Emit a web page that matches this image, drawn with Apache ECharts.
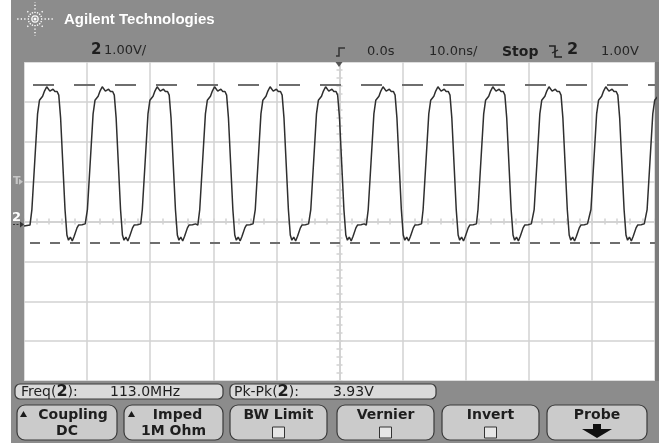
<!DOCTYPE html>
<html>
<head>
<meta charset="utf-8">
<title>Agilent scope capture</title>
<script src="https://cdn.jsdelivr.net/npm/echarts@6.0.0/dist/echarts.min.js"></script>
<style>
html, body { margin: 0; padding: 0; background: #fff; }
#scope { width: 668px; height: 443px; }
</style>
</head>
<body>
<div id="scope"></div>
<script>
/*屏幕刻度: 10ns/div, 1.00V/div*/
var timeRange = [-50, 50];
var timeStep = 10;
var voltRange = [-4, 4];
var voltStep = 1;

/*每个上升沿中点的时间 (ns), 从截图读出*/
var edgeTimes = [-48.3, -39.5, -30.8, -21.7, -12.9, -4.1, 5.0, 13.7, 22.4, 31.3, 40.3, 49.2];
/*一个周期的波形 (相对上升沿中点的时间 ns, 电压 V)*/
var shapeTimes = [-0.75, -0.45, 0, 0.45, 0.75, 0.95, 1.25, 1.55, 1.90, 2.40, 2.90, 3.20, 3.55,
	3.81, 4.10, 4.45, 4.80, 5.10, 5.35, 5.65, 5.95, 6.25, 6.70, 6.95, 7.50, 8.00];
var shapeVolts = [-0.09, 0.30, 1.50, 2.70, 3.04, 3.09, 3.14, 3.27, 3.38, 3.27, 3.32, 3.26, 3.26,
	3.17, 2.60, 1.45, 0.30, -0.34, -0.47, -0.39, -0.49, -0.37, -0.16, -0.09, -0.08, -0.06];
var leadVolts = -0.11;

/*Pk-Pk 光标 (最高, 最低) 和触发电平*/
var cursorVolts = [3.44, -0.53];
var triggerVolts = 1.0;

var gridColor = '#d2d2d2';
var panelGray = '#8c8c8c';
var ink = '#1e1e1e';

var chart = echarts.init(document.getElementById('scope'), null, { renderer: 'canvas' });

function buildTrace() {
	var data = [[timeRange[0], leadVolts]];
	for(var i = 0; i < edgeTimes.length; i++) {
		for(var k = 0; k < shapeTimes.length; k++) {
			data.push([+(edgeTimes[i] + shapeTimes[k]).toFixed(2), shapeVolts[k]]);
		}
	}
	return data;
}

function scaleAxis(pos, range, step, showGrid) {
	return {
		type: 'value',
		position: pos,
		min: range[0],
		max: range[1],
		interval: step,
		axisLine: { show: true, onZero: true, lineStyle: { color: gridColor, width: 1.5 } },
		axisTick: { show: true, length: 3, lineStyle: { color: gridColor, width: 1.5 } },
		minorTick: { show: true, splitNumber: 5, length: 3, lineStyle: { color: gridColor, width: 1.5 } },
		axisLabel: { show: false },
		splitLine: { show: showGrid, lineStyle: { color: gridColor, width: 1.5 } },
		minorSplitLine: { show: false }
	};
}

chart.setOption({
	backgroundColor: '#ffffff',
	animation: false,
	grid: {
		left: 24, right: 13, top: 62, bottom: 62,
		show: true, backgroundColor: '#ffffff', borderWidth: 0,
		outerBoundsMode: 'none'
	},
	xAxis: [scaleAxis('bottom', timeRange, timeStep, true), scaleAxis('top', timeRange, timeStep, false)],
	yAxis: [scaleAxis('left', voltRange, voltStep, true), scaleAxis('right', voltRange, voltStep, false)],
	series: [{
		type: 'line',
		xAxisIndex: 0,
		yAxisIndex: 0,
		data: buildTrace(),
		showSymbol: false,
		symbol: 'none',
		silent: true,
		lineStyle: { color: '#2f2f2f', width: 1.5 },
		markLine: {
			silent: true,
			symbol: ['none', 'none'],
			label: { show: false },
			lineStyle: { color: '#6e6e6e', width: 2 },
			data: [
				{ yAxis: cursorVolts[0], lineStyle: { type: [21, 20], dashOffset: 32 } },
				{ yAxis: cursorVolts[1], lineStyle: { type: [10, 10], dashOffset: 14 } }
			]
		}
	}]
});

/*面板: 文字、按键*/
function txt(text, x, y, font, color, align, extra) {
	var el = {
		type: 'text',
		z: 20,
		style: {
			text: text, x: x, y: y, font: font, fill: color || ink,
			align: align || 'left', verticalAlign: 'middle'
		}
	};
	if(extra) {
		for(var key in extra) el.style[key] = extra[key];
	}
	return el;
}

function box(x, y, w, h, r, fill) {
	return {
		type: 'rect', z: 10,
		shape: { x: x, y: y, width: w, height: h, r: r },
		style: { fill: fill, stroke: '#3a3a3a', lineWidth: 1.2 }
	};
}

function poly(points, fill) {
	return { type: 'polygon', z: 20, shape: { points: points }, style: { fill: fill } };
}

function sparkLogo(cx, cy) {
	var out = [];
	for(var i = 0; i < 16; i++) {
		var a = i * Math.PI / 8;
		var len = i % 4 === 0 ? (i % 8 === 0 ? 18.5 : 17) : (i % 2 === 0 ? 12 : 8);
		out.push({
			type: 'line', z: 20,
			shape: {
				x1: cx + Math.cos(a) * 2.5, y1: cy + Math.sin(a) * 2.5,
				x2: cx + Math.cos(a) * len, y2: cy + Math.sin(a) * len
			},
			style: { stroke: '#ffffff', lineWidth: 1.4, lineDash: [1.3, 2.2] }
		});
	}
	out.push({ type: 'circle', z: 20, shape: { cx: cx, cy: cy, r: 1.5 }, style: { fill: '#ffffff' } });
	return out;
}

var sans = '"DejaVu Sans", sans-serif';
var bigTwo = { b: { font: 'bold 16px ' + sans, fill: ink } };

var trigPt = chart.convertToPixel({ xAxisIndex: 0, yAxisIndex: 0 }, [0, triggerVolts]);
var groundPt = chart.convertToPixel({ xAxisIndex: 0, yAxisIndex: 0 }, [0, 0]);
var centerX = chart.convertToPixel({ xAxisIndex: 0 }, 0);

var g = [
	/*灰色外框*/
	{ type: 'rect', z: 1, shape: { x: 11, y: 0, width: 648, height: 62 }, style: { fill: panelGray } },
	{ type: 'rect', z: 1, shape: { x: 11, y: 62, width: 13, height: 319 }, style: { fill: panelGray } },
	{ type: 'rect', z: 1, shape: { x: 655, y: 62, width: 4, height: 319 }, style: { fill: '#7c7c7c' } },
	{ type: 'rect', z: 1, shape: { x: 11, y: 381, width: 648, height: 62 }, style: { fill: panelGray } },

	txt('Agilent Technologies', 64, 20, 'bold 15px "Liberation Sans", sans-serif', '#ffffff'),
	txt('2', 91, 50, 'bold 15px ' + sans),
	txt('1.00V/', 104, 51, '13px ' + sans, '#262626'),
	{ type: 'polyline', z: 20, shape: { points: [[336, 56], [339, 56], [339, 48], [345, 48]] },
		style: { stroke: '#333', lineWidth: 1.5, fill: null } },
	poly([[centerX - 4, 62], [centerX + 3, 62], [centerX - 0.5, 67]], '#555555'),
	txt('0.0s', 367, 52, '13px ' + sans, '#262626'),
	txt('10.0ns/', 429, 52, '13px ' + sans, '#262626'),
	txt('Stop', 502, 52, 'bold 14px ' + sans),
	{ type: 'polyline', z: 20, shape: { points: [[549, 46], [555, 46], [555, 57], [562, 57]] },
		style: { stroke: '#222', lineWidth: 1.6, fill: null } },
	{ type: 'line', z: 20, shape: { x1: 552, y1: 53, x2: 558, y2: 50 }, style: { stroke: '#222', lineWidth: 1.3 } },
	txt('2', 567, 50, 'bold 16px ' + sans),
	txt('1.00V', 601, 52, '13px ' + sans, '#262626'),

	/*左侧标记: 触发电平 T, 通道 2 地线*/
	txt('T', 13, trigPt[1], 'bold 11px ' + sans, '#c6c6c6'),
	poly([[19, trigPt[1] - 3], [23, trigPt[1]], [19, trigPt[1] + 3]], '#c6c6c6'),
	txt('2', 12, groundPt[1] - 4, 'bold 13px ' + sans, '#ffffff'),
	{ type: 'line', z: 20, shape: { x1: 13, y1: groundPt[1] + 3, x2: 22, y2: groundPt[1] + 3 },
		style: { stroke: '#333', lineWidth: 1.2, lineDash: [2, 1.5] } },
	poly([[20, groundPt[1]], [24, groundPt[1] + 3], [20, groundPt[1] + 6]], '#333333'),

	/*测量读数*/
	box(15, 384, 208, 15, 5, '#dadada'),
	txt('Freq({b|2}):', 21, 392, '14px ' + sans, ink, 'left', { rich: bigTwo }),
	txt('113.0MHz', 110, 392, '14px ' + sans),
	box(230, 384, 206, 15, 5, '#dadada'),
	txt('Pk-Pk({b|2}):', 234, 392, '14px ' + sans, ink, 'left', { rich: bigTwo }),
	txt('3.93V', 333, 392, '14px ' + sans)
];

/*软键*/
var keys = [
	{ x: 17, w: 100, top: 'Coupling', low: 'DC', up: true },
	{ x: 124, w: 99, top: 'Imped', low: '1M Ohm', up: true },
	{ x: 230, w: 97, top: 'BW Limit', low: 'check' },
	{ x: 337, w: 97, top: 'Vernier', low: 'check' },
	{ x: 442, w: 97, top: 'Invert', low: 'check' },
	{ x: 547, w: 100, top: 'Probe', low: 'arrow' }
];
for(var i = 0; i < keys.length; i++) {
	var k = keys[i];
	var cx = k.x + k.w / 2;
	g.push(box(k.x, 405, k.w, 35, 8, '#cbcbcb'));
	if(k.up) {
		var tx = k.x + (i === 0 ? 3 : 4);
		g.push(poly([[tx, 417], [tx + 7, 417], [tx + 3.5, 411]], '#1a1a1a'));
		g.push(txt(k.top, i === 0 ? cx + 6 : cx + 4, 415, 'bold 14px ' + sans, ink, 'center'));
	} else {
		g.push(txt(k.top, cx, 415, 'bold 14px ' + sans, ink, 'center'));
	}
	if(k.low === 'check') {
		g.push({ type: 'rect', z: 20, shape: { x: cx - 6, y: 427, width: 12, height: 11 },
			style: { fill: '#e6e6e6', stroke: '#333', lineWidth: 1 } });
	} else if(k.low === 'arrow') {
		g.push(poly([[cx - 4, 424], [cx + 4, 424], [cx + 4, 429], [cx + 15, 429], [cx, 438],
			[cx - 15, 429], [cx - 4, 429]], '#111111'));
	} else {
		g.push(txt(k.low, cx, 431, 'bold 14px ' + sans, ink, 'center'));
	}
}

g = g.concat(sparkLogo(35, 19));

chart.setOption({ graphic: g });
</script>
</body>
</html>
